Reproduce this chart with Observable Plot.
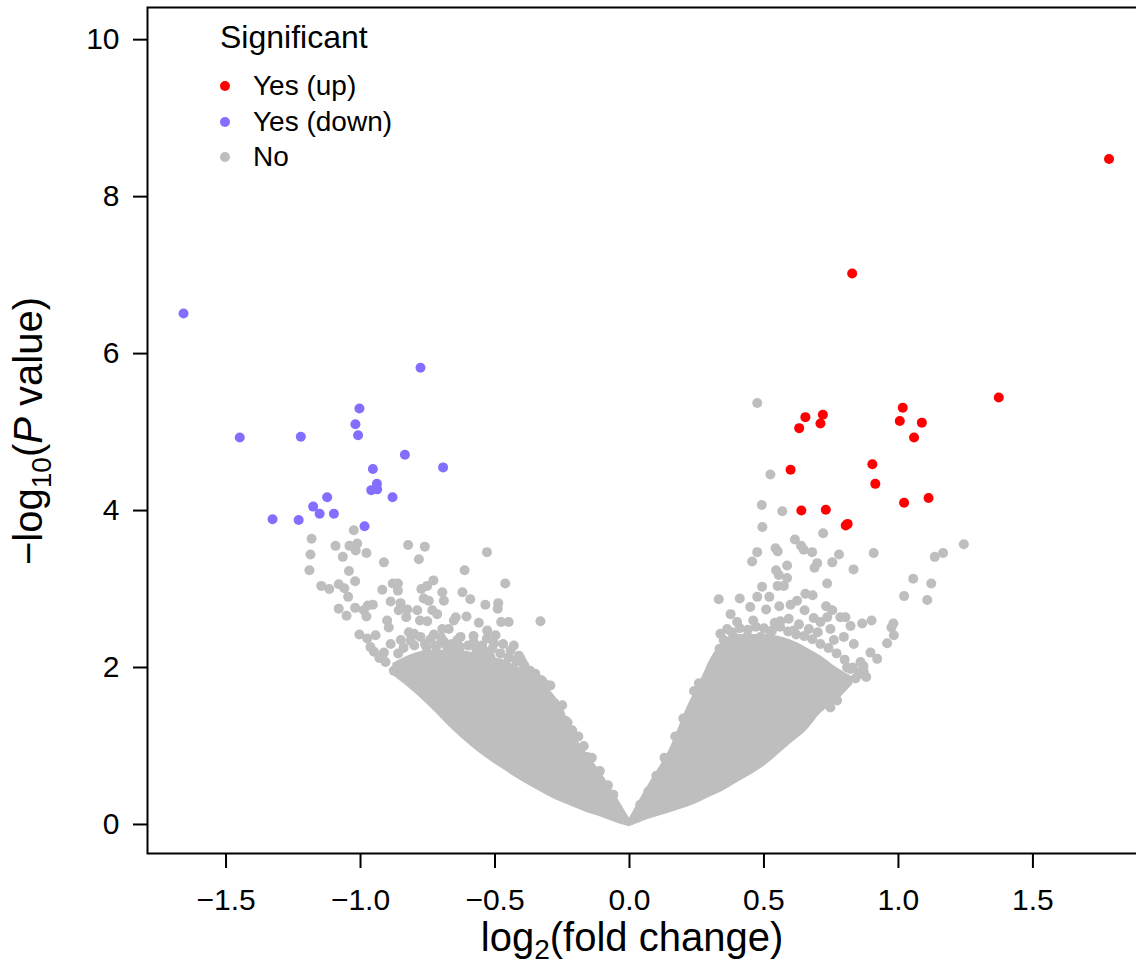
<!DOCTYPE html>
<html><head><meta charset="utf-8">
<script src="https://cdn.jsdelivr.net/npm/d3@7"></script>
<script src="https://cdn.jsdelivr.net/npm/@observablehq/plot@0.6"></script>
<style>
html,body{margin:0;padding:0;background:#fff;overflow:hidden;}
#wrap{position:relative;width:1136px;height:970px;overflow:hidden;}
</style></head><body><div id="wrap"></div>
<script>
// ---- data ----
const upFC = [1.783,0.828,1.373,1.016,0.654,0.719,0.631,0.710,1.005,1.087,1.058,0.599,0.903,0.914,1.021,1.112,0.639,0.730,0.804,0.811];
const upP  = [8.48,7.02,5.44,5.31,5.19,5.22,5.05,5.11,5.14,5.12,4.93,4.52,4.59,4.34,4.10,4.16,4.00,4.01,3.81,3.83];

const downFC = [-1.658,-0.777,-1.004,-1.019,-1.009,-1.449,-1.222,-0.835,-0.693,-0.954,-0.939,-0.960,-0.938,-0.881,-1.124,-1.176,-1.152,-1.099,-1.327,-1.230,-0.985];
const downP  = [6.51,5.82,5.30,5.10,4.96,4.93,4.94,4.71,4.55,4.53,4.34,4.26,4.27,4.17,4.17,4.05,3.96,3.96,3.89,3.88,3.80];

const noFC = [
-1.182,-1.186,-1.190,-1.093,-1.066,-1.025,-1.041,-1.012,-1.018,-0.978,-0.913,-1.043,-1.020,-1.146,-1.116,-1.081,-1.060,-1.046,-1.081,-1.052,
-1.020,-0.988,-0.978,-0.973,-0.954,-0.919,-0.880,-0.861,-0.861,-0.888,-0.851,-0.858,-0.826,-0.830,-0.789,-0.823,-0.761,-0.783,-0.729,-0.752,
-0.774,-0.765,-0.746,-0.696,-0.690,-0.733,-0.715,-0.779,-0.752,-0.646,-0.606,-0.653,-0.613,-0.530,-0.462,-0.621,-0.592,-0.536,-0.488,-0.490,
-0.477,-0.449,-0.331,-0.560,-0.529,-0.498,-0.504,-0.579,-0.548,-0.628,-0.696,-0.672,-0.727,-0.755,-0.715,-0.678,-0.647,-0.901,-0.895,-1.004,
-0.975,-0.944,-0.963,-0.913,-0.888,-0.820,-0.801,-0.814,-0.777,-0.603,-0.553,-0.517,-0.442,-0.448,-0.411,-0.399,-0.480,-0.907,-0.876,-0.826,
-0.405,-0.393,-0.380,-0.349,-0.325,-0.294,-0.250,-0.294,-0.319,-0.269,-0.238,-0.213,-0.157,-0.930,-0.950,
-0.86,-0.84,-0.80,-0.76,-0.72,-0.69,-0.66,-0.63,-0.60,-0.57,-0.54,-0.51,-0.48,-0.45,-0.42,-0.39,-0.37,-0.35,-0.33,-0.31,
-0.85,-0.81,-0.74,-0.70,-0.64,-0.58,-0.53,-0.47,-0.43,-0.28,-0.26,-0.23,-0.19,-0.17,-0.14,-0.11,-0.08,-0.06,
0.475,0.524,0.492,0.568,0.494,0.720,0.615,1.166,1.243,0.638,0.648,0.679,0.543,0.551,0.475,0.456,0.779,0.754,0.698,0.688,
0.833,0.908,0.586,0.545,0.555,0.586,0.551,0.574,0.493,0.735,1.135,1.055,1.122,1.021,1.107,0.332,0.410,0.475,0.520,0.449,
0.508,0.557,0.599,0.623,0.654,0.681,0.651,0.731,0.754,0.784,0.735,0.685,0.710,0.803,0.376,0.561,0.592,0.611,0.667,0.747,
0.822,0.865,0.900,0.974,0.981,0.983,0.958,0.896,0.921,0.859,0.871,0.840,0.809,0.797,0.834,0.363,0.338,0.388,0.438,0.487,
0.524,0.335,0.320,0.301,0.258,0.264,0.852,0.822,0.772,0.747,
0.35,0.38,0.41,0.44,0.47,0.50,0.53,0.56,0.59,0.62,0.65,0.68,0.71,0.74,0.77,0.80,0.83,0.86,
0.40,0.46,0.54,0.63,0.70,0.76,0.24,0.20,0.17,0.13,0.10,0.07,0.04,0.88,0.87];
const noP = [
3.64,3.44,3.24,3.55,3.41,3.75,3.55,3.58,3.49,3.46,3.34,3.23,3.10,3.04,3.00,3.06,3.01,2.90,2.75,2.66,
2.76,2.73,2.65,2.79,2.80,2.99,3.07,3.07,2.98,2.84,2.82,2.73,2.74,2.64,2.73,3.56,3.54,3.38,3.11,3.04,
3.00,2.88,2.85,2.96,2.85,2.73,2.68,2.60,2.59,2.64,2.65,2.60,3.24,3.47,3.07,2.96,2.87,2.80,2.82,2.75,
2.58,2.58,2.59,2.57,2.47,2.41,2.31,2.32,2.28,2.39,2.49,2.49,2.42,2.26,2.28,2.26,2.22,2.60,2.51,2.42,
2.37,2.41,2.26,2.19,2.30,2.45,2.43,2.34,2.39,2.13,2.17,2.13,2.22,2.13,2.15,2.07,2.05,2.07,1.96,1.96,
2.11,2.03,1.83,1.83,1.83,1.77,1.52,1.47,1.60,1.37,1.32,1.20,0.86,2.12,2.20,
2.18,2.25,2.28,2.30,2.27,2.33,2.30,2.26,2.28,2.24,2.21,2.24,2.18,2.12,2.08,2.02,1.96,1.92,1.84,1.78,
2.35,2.40,2.36,2.38,2.35,2.40,2.37,2.30,2.28,1.55,1.42,1.30,1.12,1.00,0.85,0.68,0.50,0.38,
5.37,4.46,4.07,3.99,3.79,3.71,3.63,3.46,3.57,3.55,3.50,3.47,3.52,3.48,3.47,3.35,3.44,3.34,3.33,3.27,
3.25,3.46,3.30,3.24,3.18,3.14,3.04,3.04,3.03,3.07,3.41,3.13,3.07,2.91,2.86,2.87,2.88,2.90,2.90,2.77,
2.74,2.78,2.80,2.85,2.94,2.92,2.73,2.78,2.73,2.64,2.64,2.63,2.58,2.64,2.68,2.59,2.62,2.47,2.49,2.49,
2.53,2.56,2.60,2.51,2.56,2.41,2.31,2.19,2.11,2.07,1.95,1.86,2.00,2.39,2.30,2.49,2.43,2.39,2.39,2.39,
2.45,2.24,2.07,1.94,1.80,1.66,1.94,1.98,1.58,1.49,
2.35,2.45,2.50,2.48,2.52,2.50,2.47,2.52,2.46,2.42,2.40,2.36,2.30,2.25,2.18,2.10,2.00,1.92,
2.58,2.60,2.57,2.55,2.45,2.35,1.70,1.35,1.12,0.85,0.62,0.42,0.25,1.88,2.02];

// dense, fully overlapping part of the non-significant cloud (outline)
const leftCoreFC   = [-0.88,-0.80,-0.74,-0.65,-0.554,-0.46,-0.40,-0.343,-0.306,-0.244,-0.207,-0.157,-0.120,-0.04,0.0];
const leftCoreLow  = [1.90,1.68,1.49,1.18,0.90,0.68,0.55,0.44,0.37,0.27,0.22,0.15,0.11,0.01,-0.03];
const leftCoreHigh = [2.05,2.18,2.22,2.22,2.17,2.08,1.98,1.85,1.75,1.45,1.16,0.90,0.73,0.31,0.08];
const rightCoreFC   = [0.0,0.066,0.152,0.214,0.264,0.30,0.34,0.40,0.50,0.60,0.66,0.71,0.77,0.83];
const rightCoreLow  = [-0.03,0.06,0.15,0.22,0.29,0.35,0.41,0.53,0.74,1.03,1.20,1.41,1.57,1.78];
const rightCoreHigh = [0.08,0.48,0.98,1.49,1.83,2.10,2.30,2.42,2.42,2.35,2.25,2.15,2.00,1.88];

const xTicks = [-1.5,-1.0,-0.5,0.0,0.5,1.0,1.5];
const yTicks = [0,2,4,6,8,10];
const legendTitle = "Significant";
const legendLabels = ["Yes (up)","Yes (down)","No"];
const colUp = "#FF0000", colDown = "#836FFF", colNo = "#BEBEBE";

// ---- build tables ----
const pts = (xs, ys) => xs.map((x, i) => ({x, y: ys[i]}));
const noPts = pts(noFC, noP), upPts = pts(upFC, upP), downPts = pts(downFC, downP);
const core = (xs, lo, hi) => xs.map((x, i) => ({x, lo: lo[i], hi: hi[i]}));
const leftCore = core(leftCoreFC, leftCoreLow, leftCoreHigh);
const rightCore = core(rightCoreFC, rightCoreLow, rightCoreHigh);

const fmt = d3.format(".1f");
const R = 5;
const plot = Plot.plot({
  width: 1150, height: 970,
  marginLeft: 147, marginRight: 3, marginTop: 7, marginBottom: 117,
  x: {domain: [-1.792, 1.926]},
  y: {domain: [-0.37, 10.41]},
  style: {fontFamily: "'Liberation Sans', Arial, sans-serif", fontSize: "30px", color: "black", background: "white", maxWidth: "none", overflow: "visible"},
  marks: [
    Plot.areaY(leftCore, {x: "x", y1: "lo", y2: "hi", fill: colNo, curve: "monotone-x"}),
    Plot.areaY(rightCore, {x: "x", y1: "lo", y2: "hi", fill: colNo, curve: "monotone-x"}),
    Plot.dot(noPts, {x: "x", y: "y", r: R, fill: colNo}),
    Plot.dot(upPts, {x: "x", y: "y", r: R, fill: colUp}),
    Plot.dot(downPts, {x: "x", y: "y", r: R, fill: colDown}),
    Plot.frame({stroke: "black", strokeWidth: 2}),
    Plot.axisX({ticks: xTicks, tickSize: 15, tickPadding: 20, tickFormat: fmt, label: null, strokeWidth: 2, fontSize: 30}),
    Plot.axisY({ticks: yTicks, tickSize: 14, tickPadding: 14, label: null, strokeWidth: 2, fontSize: 30})
  ]
});
document.getElementById("wrap").appendChild(plot);

const svg = d3.select(plot);
// axis titles
const xt = svg.append("text").attr("x", 632).attr("y", 951).attr("text-anchor", "middle").attr("font-size", 40).attr("fill", "black").style("white-space", "pre");
xt.append("tspan").text("log");
xt.append("tspan").attr("font-size", 28).attr("dy", 8).text("2");
xt.append("tspan").attr("dy", -8).text("(fold change)");

const yt = svg.append("text").attr("transform", "translate(42,431) rotate(-90)").attr("text-anchor", "middle").attr("font-size", 40).attr("fill", "black").style("white-space", "pre");
yt.append("tspan").text("\u2212log");
yt.append("tspan").attr("font-size", 28).attr("dy", 9).text("10");
yt.append("tspan").attr("dy", -9).text("(");
yt.append("tspan").attr("font-style", "italic").text("P");
yt.append("tspan").text(" value)");

// legend
const lg = svg.append("g").attr("fill", "black").attr("text-anchor", "start");
lg.append("text").attr("x", 220).attr("y", 48).attr("font-size", 32).text(legendTitle);
const legendCols = [colUp, colDown, colNo];
const rowY = [86, 122, 157];
legendLabels.forEach((lab, i) => {
  lg.append("circle").attr("cx", 225).attr("cy", rowY[i]).attr("r", 5).attr("fill", legendCols[i]);
  lg.append("text").attr("x", 253).attr("y", rowY[i] + 9).attr("font-size", 28).text(lab);
});
</script>
</body></html>
